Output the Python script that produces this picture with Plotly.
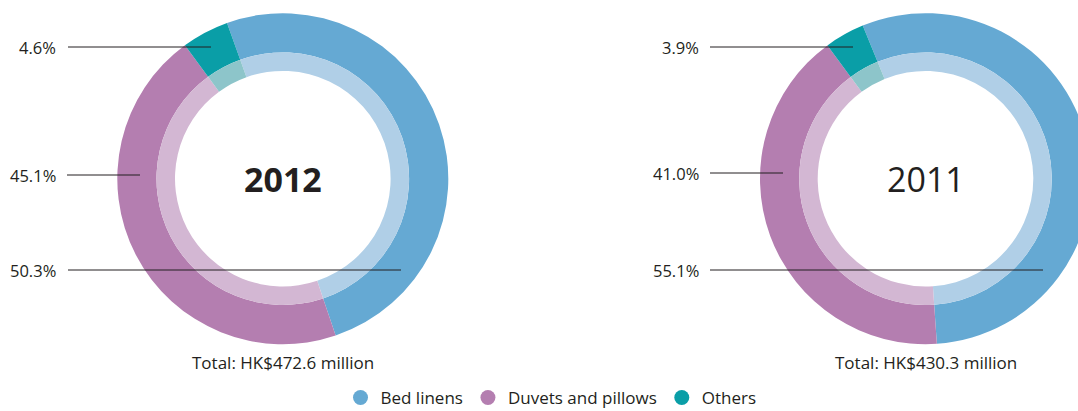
import plotly.graph_objects as go

# ---- data ----
categories = ["Bed linens", "Duvets and pillows", "Others"]
years = ["2012", "2011"]
share_2012 = [50.3, 45.1, 4.6]
share_2011 = [55.1, 41.0, 3.9]
totals = ["Total: HK$472.6 million", "Total: HK$430.3 million"]
label_2012 = ["4.6%", "45.1%", "50.3%"]
label_2011 = ["3.9%", "41.0%", "55.1%"]

# ---- style ----
# figure is slightly larger than the 1078x411 window (right donut is cropped
# in the reference); the overflow is hidden.
W, H = 1100, 440
outer_colors = ["#65a9d3", "#b47eb0", "#0a9ea7"]
inner_colors = ["#b0cfe7", "#d3b7d3", "#8dc5ca"]
text_color = "#231f20"
FONT = "Open Sans"

R_OUT, R_MID, R_IN = 165.5, 126.3, 107.8
centers = [(282.8, 178.7), (925.5, 178.7)]
rotations = [-19.7, -22.3]


def px(x):
    return x / W


def py(y):
    return 1 - y / H


def domain(cx, cy, r):
    return dict(x=[px(cx - r), px(cx + r)], y=[py(cy + r), py(cy - r)])


fig = go.Figure()
series = [share_2012, share_2011]
for i, vals in enumerate(series):
    cx, cy = centers[i]
    fig.add_trace(go.Pie(
        labels=categories, values=vals, sort=False, direction="clockwise",
        rotation=rotations[i], hole=R_MID / R_OUT, domain=domain(cx, cy, R_OUT),
        marker=dict(colors=outer_colors, line=dict(width=0)),
        textinfo="none", showlegend=False, hoverinfo="label+percent"))
    fig.add_trace(go.Pie(
        labels=categories, values=vals, sort=False, direction="clockwise",
        rotation=rotations[i], hole=R_IN / R_MID, domain=domain(cx, cy, R_MID),
        marker=dict(colors=inner_colors, line=dict(width=0)),
        textinfo="none", showlegend=False, hoverinfo="skip"))

# legend entries with round markers
for name, col in zip(categories, outer_colors):
    fig.add_trace(go.Scatter(x=[None], y=[None], mode="markers", name=name,
                             marker=dict(color=col, size=15, symbol="circle"),
                             showlegend=True, hoverinfo="skip"))

annotations = []
shapes = []
# centre year text and totals
for i, yr in enumerate(years):
    cx, cy = centers[i]
    annotations.append(dict(
        x=px(cx), y=py(cy), xref="paper", yref="paper", text=yr,
        showarrow=False, xanchor="center", yanchor="middle",
        font=dict(family=FONT, size=34, color=text_color,
                  weight="bold" if i == 0 else "normal")))
    annotations.append(dict(
        x=px(cx), y=py(362), xref="paper", yref="paper", text=totals[i],
        showarrow=False, xanchor="center", yanchor="middle",
        font=dict(family=FONT, size=17, color=text_color)))

# leader lines & percentage labels
leaders = [
    (label_2012, 58, [(68, 211, 47), (67, 140, 175), (68, 401, 270)]),
    (label_2011, 701, [(710, 853, 47), (710, 783, 173), (710, 1043, 270)]),
]
for labels, lx, lines in leaders:
    for lab, (x0, x1, y) in zip(labels, lines):
        shapes.append(dict(type="line", xref="paper", yref="paper",
                           x0=px(x0), x1=px(x1), y0=py(y), y1=py(y),
                           line=dict(color=text_color, width=1)))
        annotations.append(dict(
            x=px(lx), y=py(y), xref="paper", yref="paper", text=lab,
            showarrow=False, xanchor="right", yanchor="middle",
            font=dict(family=FONT, size=16.5, color=text_color)))

fig.update_layout(
    width=W, height=H, autosize=False, margin=dict(l=0, r=0, t=0, b=0),
    paper_bgcolor="white", plot_bgcolor="white",
    xaxis=dict(visible=False), yaxis=dict(visible=False),
    showlegend=True,
    legend=dict(orientation="h", x=px(551), y=py(398), xanchor="center",
                yanchor="middle", font=dict(family=FONT, size=17, color=text_color),
                bgcolor="rgba(0,0,0,0)", itemclick=False, borderwidth=0),
    annotations=annotations, shapes=shapes,
)

fig.write_html("out.html", config={"responsive": False}, post_script=(
    "document.body.style.overflow='hidden';"
    "document.documentElement.style.overflow='hidden';"))
